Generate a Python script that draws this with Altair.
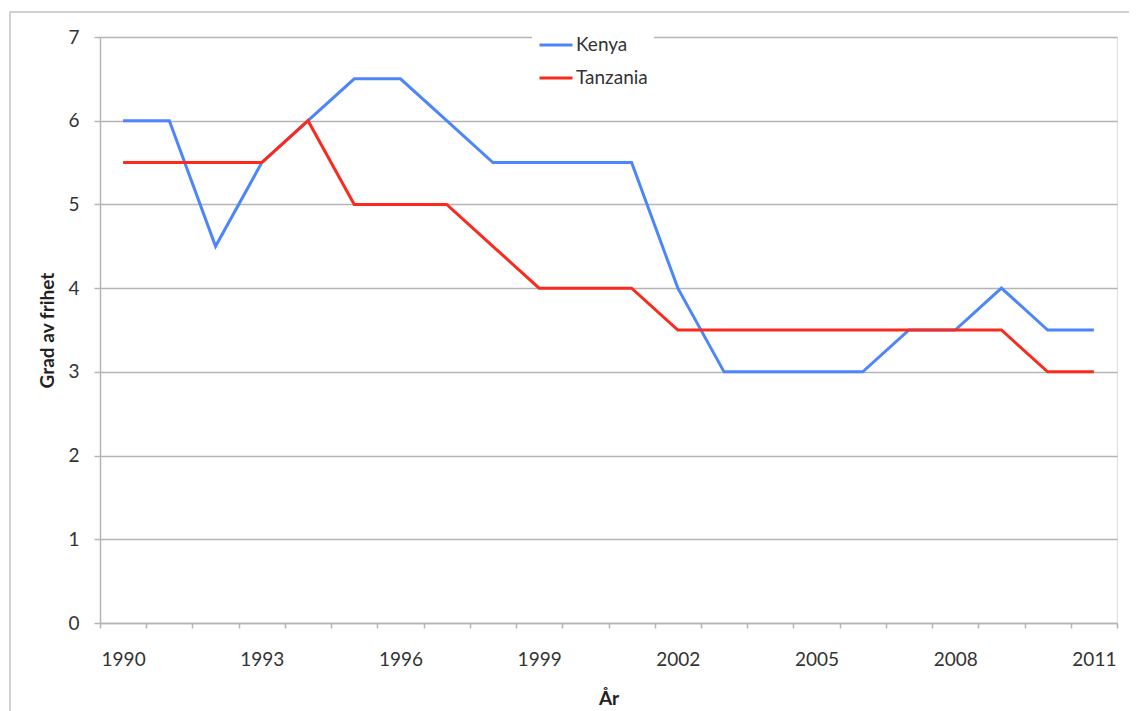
import altair as alt
import pandas as pd

years = list(range(1990, 2012))
kenya = [6, 6, 4.5, 5.5, 6, 6.5, 6.5, 6, 5.5, 5.5, 5.5, 5.5, 4, 3, 3, 3, 3, 3.5, 3.5, 4, 3.5, 3.5]
tanzania = [5.5, 5.5, 5.5, 5.5, 6, 5, 5, 5, 4.5, 4, 4, 4, 3.5, 3.5, 3.5, 3.5, 3.5, 3.5, 3.5, 3.5, 3, 3]
series = ["Kenya", "Tanzania"]
colors = ["#4d85fb", "#fb2a1c"]
y_ticks = [0, 1, 2, 3, 4, 5, 6, 7]

rows = []
for name, vals in zip(series, [kenya, tanzania]):
    for yr, v in zip(years, vals):
        rows.append({"År": yr, "value": v, "land": name})
df = pd.DataFrame(rows)

FONT = "Lato"
GRID = "#b4b4b4"

lines = alt.Chart(df).mark_line(strokeWidth=3).encode(
    x=alt.X(
        "År:O",
        bandPosition=0.5,
        scale=alt.Scale(type="band", paddingInner=0, paddingOuter=0),
        axis=alt.Axis(
            title="År",
            labelAngle=0,
            labelExpr="(datum.value - 1990) % 3 === 0 ? datum.label : ''",
            tickBand="extent",
            tickSize=5,
            labelPadding=22,
            labelFont=FONT,
            labelFontSize=19,
            labelColor="#333333",
            labelOverlap=False,
            domainColor=GRID,
            domainWidth=1.5,
            tickColor=GRID,
            tickWidth=1.5,
            grid=False,
            titleFont=FONT,
            titleFontSize=19,
            titleFontWeight="bold",
            titleColor="#222222",
            titleBaseline="alphabetic",
            titleY=81,
        ),
    ),
    y=alt.Y(
        "value:Q",
        scale=alt.Scale(domain=[0, 7], nice=False),
        axis=alt.Axis(
            title="Grad av frihet",
            values=y_ticks,
            format="d",
            tickSize=6,
            labelPadding=15,
            labelFont=FONT,
            labelFontSize=19,
            labelColor="#333333",
            domainColor=GRID,
            domainWidth=1.5,
            tickColor=GRID,
            tickWidth=1.5,
            grid=True,
            gridColor=GRID,
            gridWidth=1.5,
            titleFont=FONT,
            titleFontSize=19,
            titleFontWeight="bold",
            titleColor="#222222",
            titleAngle=270,
            titleBaseline="alphabetic",
            titleX=-47,
        ),
    ),
    color=alt.Color(
        "land:N",
        scale=alt.Scale(domain=series, range=colors),
        legend=alt.Legend(
            title=None,
            orient="none",
            legendX=432,
            legendY=-16,
            fillColor="white",
            padding=6,
            symbolType="stroke",
            symbolSize=1089,
            symbolStrokeWidth=3,
            labelFont=FONT,
            labelFontSize=19,
            labelColor="#333333",
            labelOffset=2,
            rowPadding=5,
        ),
    ),
    order=alt.Order("År:O"),
)

border = alt.Chart(pd.DataFrame({"a": [0]})).mark_rect(
    fill="transparent", stroke="#c4c4c4", strokeWidth=1.5
).encode(
    x=alt.value(-90), x2=alt.value(1047), y=alt.value(-25), y2=alt.value(720)
)

chart = alt.layer(border, lines).properties(
    width=1017,
    height=586,
    autosize=alt.AutoSizeParams(type="none"),
    padding={"left": 92, "top": 29, "right": 12, "bottom": 95},
).configure_view(stroke=None).configure(background="white")

chart.save("out.html", embed_options={"renderer": "svg", "actions": False})
